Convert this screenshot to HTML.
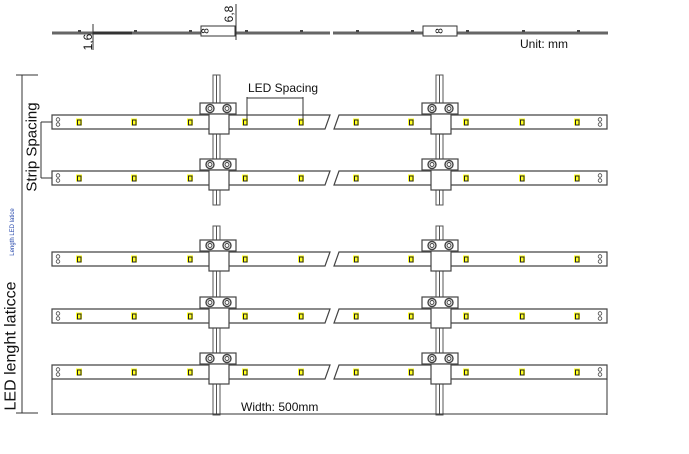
<!DOCTYPE html>
<html><head><meta charset="utf-8"><style>
html,body{margin:0;padding:0;background:#fff;}
svg{display:block;}
text{font-family:"Liberation Sans",sans-serif;fill:#111;}
</style></head><body>
<svg width="689" height="454" viewBox="0 0 689 454" xmlns="http://www.w3.org/2000/svg">
<defs>
  <g id="led"><rect x="-3" y="-3.5" width="6" height="7" fill="#ffff22"/><rect x="-1.5" y="-2" width="3.5" height="5" fill="none" stroke="#222" stroke-width="1"/></g>
  <g id="conn">
    <rect x="0" y="0" width="36" height="11" fill="#fff" stroke="#444" stroke-width="1.2"/>
    <circle cx="10" cy="5.5" r="4" fill="#fff" stroke="#444" stroke-width="1.4"/><circle cx="10" cy="5.5" r="2" fill="none" stroke="#444" stroke-width="1"/>
    <circle cx="27" cy="5.5" r="4" fill="#fff" stroke="#444" stroke-width="1.4"/><circle cx="27" cy="5.5" r="2" fill="none" stroke="#444" stroke-width="1"/>
    <rect x="9" y="11" width="20" height="20" fill="#fff" stroke="#444" stroke-width="1.2"/>
  </g>
  <g id="row">
    <path d="M52,0 H330 L325,14 H52 Z" fill="#fff" stroke="#444" stroke-width="1.2"/>
    <path d="M339,0 H607 V14 H334 Z" fill="#fff" stroke="#444" stroke-width="1.2"/>
    <circle cx="58" cy="4.5" r="1.8" fill="none" stroke="#444" stroke-width="0.8"/><circle cx="58" cy="9.5" r="1.8" fill="none" stroke="#444" stroke-width="0.8"/>
    <circle cx="600" cy="4.5" r="1.8" fill="none" stroke="#444" stroke-width="0.8"/><circle cx="600" cy="9.5" r="1.8" fill="none" stroke="#444" stroke-width="0.8"/>
    <use href="#led" x="79" y="7"/><use href="#led" x="134" y="7"/><use href="#led" x="190" y="7"/><use href="#led" x="245" y="7"/><use href="#led" x="301" y="7"/>
    <use href="#led" x="356" y="7"/><use href="#led" x="411" y="7"/><use href="#led" x="466" y="7"/><use href="#led" x="522" y="7"/><use href="#led" x="577" y="7"/>
    <use href="#conn" x="200" y="-12"/><use href="#conn" x="422" y="-12"/>
  </g>
</defs>

<!-- top side view -->
<line x1="52" y1="33" x2="330" y2="33" stroke="#666" stroke-width="3"/>
<line x1="333" y1="33" x2="608" y2="33" stroke="#666" stroke-width="3"/>
<line x1="93" y1="33" x2="132" y2="33" stroke="#333" stroke-width="3"/>
<g fill="#444"><rect x="78" y="30" width="3" height="2"/><rect x="134" y="30" width="3" height="2"/><rect x="189" y="30" width="3" height="2"/><rect x="245" y="30" width="3" height="2"/><rect x="300" y="30" width="3" height="2"/><rect x="356" y="30" width="3" height="2"/><rect x="411" y="30" width="3" height="2"/><rect x="466" y="30" width="3" height="2"/><rect x="522" y="30" width="3" height="2"/><rect x="577" y="30" width="3" height="2"/></g>
<rect x="201" y="26" width="34" height="10" fill="#fff" stroke="#333" stroke-width="1"/>
<text x="206" y="31" font-size="10" transform="rotate(-90 206 31)" text-anchor="middle" dominant-baseline="central">8</text>
<rect x="423" y="26" width="34" height="10" fill="#fff" stroke="#333" stroke-width="1"/>
<text x="440" y="31" font-size="10" transform="rotate(-90 440 31)" text-anchor="middle" dominant-baseline="central">8</text>
<line x1="93" y1="24" x2="93" y2="50" stroke="#333" stroke-width="1"/>
<text x="88" y="42" font-size="12" transform="rotate(-90 88 42)" text-anchor="middle" dominant-baseline="central">1,6</text>
<line x1="236" y1="4" x2="236" y2="40" stroke="#333" stroke-width="1"/>
<text x="229" y="14" font-size="12" transform="rotate(-90 229 14)" text-anchor="middle" dominant-baseline="central">6,8</text>
<text x="520" y="48" font-size="12">Unit:  mm</text>

<!-- wires -->
<g stroke="#555" stroke-width="1" fill="#fff">
  <rect x="213" y="75" width="7" height="130"/><rect x="213" y="226" width="7" height="189"/>
  <rect x="436" y="75" width="7" height="130"/><rect x="436" y="226" width="7" height="189"/>
  <line x1="216.5" y1="75" x2="216.5" y2="205"/><line x1="216.5" y1="226" x2="216.5" y2="415"/>
  <line x1="439.5" y1="75" x2="439.5" y2="205"/><line x1="439.5" y1="226" x2="439.5" y2="415"/>
</g>

<use href="#row" x="0" y="115"/>
<use href="#row" x="0" y="171"/>
<use href="#row" x="0" y="252"/>
<use href="#row" x="0" y="309"/>
<use href="#row" x="0" y="365"/>

<!-- LED spacing -->
<g stroke="#333" stroke-width="1" fill="none">
  <line x1="247" y1="97" x2="247" y2="121"/><line x1="303" y1="97" x2="303" y2="121"/><line x1="247" y1="98" x2="303" y2="98"/>
</g>
<text x="248" y="92" font-size="12">LED Spacing</text>

<!-- strip spacing -->
<g stroke="#333" stroke-width="1" fill="none">
  <line x1="41" y1="122" x2="41" y2="178"/><line x1="41" y1="122" x2="52" y2="122"/><line x1="41" y1="178" x2="52" y2="178"/>
</g>
<text x="32" y="147" font-size="15" transform="rotate(-90 32 147)" text-anchor="middle" dominant-baseline="central">Strip Spacing</text>

<!-- length -->
<g stroke="#333" stroke-width="1" fill="none">
  <line x1="22" y1="75" x2="22" y2="413"/><line x1="16" y1="75" x2="38" y2="75"/><line x1="16" y1="413" x2="38" y2="413"/>
  <line x1="52" y1="379" x2="52" y2="415"/><line x1="607" y1="379" x2="607" y2="415"/><line x1="52" y1="414" x2="607" y2="414"/>
</g>
<text x="11" y="346" font-size="16" transform="rotate(-90 11 346)" text-anchor="middle" dominant-baseline="central">LED lenght laticce</text>
<text x="13" y="232" font-size="6" transform="rotate(-90 13 232)" text-anchor="middle" dominant-baseline="central" style="fill:#2244aa">Length LED latice</text>
<text x="241" y="411" font-size="12">Width: 500mm</text>
</svg>
</body></html>
